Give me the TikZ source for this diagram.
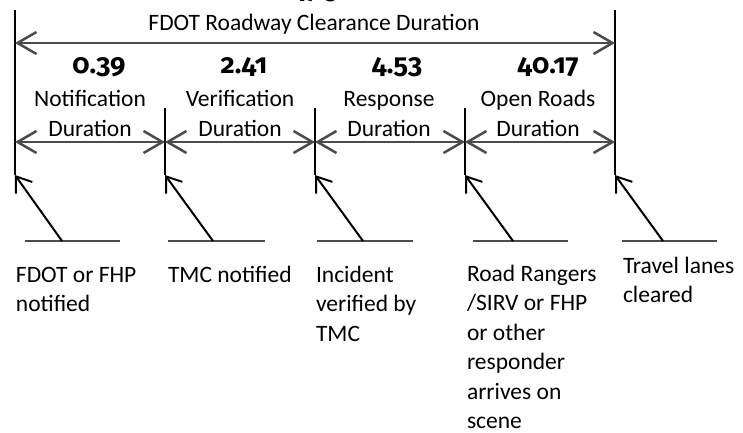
\documentclass[tikz,border=0pt]{standalone}
\usepackage{fontspec}
\setmainfont{Carlito}
\newfontfamily\numfont[Numbers=OldStyle]{Fira Sans}
\usetikzlibrary{arrows.meta}
\definecolor{line_gray}{RGB}{75,75,75}
\begin{document}
\begin{tikzpicture}[x=1pt,y=-1pt,line width=2pt]
    \tikzstyle{label}=[text=black,inner sep=0pt,font=\fontsize{23.5}{30}\selectfont]
    \tikzstyle{duration}=[style=label,align=center,anchor=base]
    \tikzstyle{value}=[style=label,anchor=base,font=\fontsize{27.5}{30}\selectfont\numfont\bfseries]
    \tikzstyle{event}=[style=label,align=left,anchor=base west,font=\fontsize{23.5}{29.5}\selectfont]
    \tikzstyle{span}=[line_gray,line width=2.5pt,{Straight Barb[length=19pt,width=22pt]}-{Straight Barb[length=19pt,width=22pt]}]
    \tikzstyle{pointer}=[black,-{Straight Barb[length=14pt,width=20pt]}]
    \tikzstyle{base}=[line_gray,line width=2.2pt]

    \useasboundingbox (0,0) rectangle (743,432);

    % ticks
    \coordinate (M0) at (15,10);
    \coordinate (M4) at (615,10);
    \coordinate (T1) at (165,108);
    \coordinate (T2) at (315,108);
    \coordinate (T3) at (465,108);
    \coordinate (F0) at (15,175);
    \coordinate (F1) at (165,175);
    \coordinate (F2) at (315,175);
    \coordinate (F3) at (465,175);
    \coordinate (F4) at (615,175);
    \draw (M0) -- (F0);
    \draw (T1) -- (F1);
    \draw (T2) -- (F2);
    \draw (T3) -- (F3);
    \draw (M4) -- (F4);

    % duration arrows
    \coordinate (A0) at (15,43);
    \coordinate (A4) at (615,43);
    \coordinate (S0) at (15,142);
    \coordinate (S1) at (165,142);
    \coordinate (S2) at (315,142);
    \coordinate (S3) at (465,142);
    \coordinate (S4) at (615,142);
    \path[span]
     (A0) edge (A4)
     (S0) edge (S1)
     (S1) edge (S2)
     (S2) edge (S3)
     (S3) edge (S4);

    % base anchor of a multi-line node sits on its last line
    \node[value] (total) at (315,-2) {47.5};
    \node[label,anchor=base] (clear) at (314,30) {FDOT Roadway Clearance Duration};
    \node[value] (V1) at (99,73)  {0.39};
    \node[value] (V2) at (244,73) {2.41};
    \node[value] (V3) at (397,73) {4.53};
    \node[value] (V4) at (548,73) {40.17};
    \node[duration] (D1) at (90,136)  {Notification\\Duration};
    \node[duration] (D2) at (240,136) {Verification\\Duration};
    \node[duration] (D3) at (389,136) {Response\\Duration};
    \node[duration] (D4) at (538,136) {Open Roads\\Duration};

    % event pointers
    \coordinate (L0) at (25,241);  \coordinate (R0) at (120,241); \coordinate (P0) at (62,241);
    \coordinate (L1) at (168,241); \coordinate (R1) at (265,241); \coordinate (P1) at (213,241);
    \coordinate (L2) at (317,241); \coordinate (R2) at (413,241); \coordinate (P2) at (363,241);
    \coordinate (L3) at (473,241); \coordinate (R3) at (568,241); \coordinate (P3) at (513,241);
    \coordinate (L4) at (622,241); \coordinate (R4) at (717,241); \coordinate (P4) at (663,241);
    \path[base]
     (L0) edge (R0)
     (L1) edge (R1)
     (L2) edge (R2)
     (L3) edge (R3)
     (L4) edge (R4);
    \path[pointer]
     (P0) edge (F0)
     (P1) edge (F1)
     (P2) edge (F2)
     (P3) edge (F3)
     (P4) edge (F4);

    \node[event] (E0) at (15,311.5)  {FDOT or FHP\\notified};
    \node[event] (E1) at (167,282)   {TMC notified};
    \node[event] (E2) at (315,341)   {Incident\\verified by\\TMC};
    \node[event] (E3) at (466,428.5) {Road Rangers\\/SIRV or FHP\\or other\\responder\\arrives on\\scene};
    \node[event] (E4) at (622,302.5) {Travel lanes\\cleared};
\end{tikzpicture}
\end{document}
